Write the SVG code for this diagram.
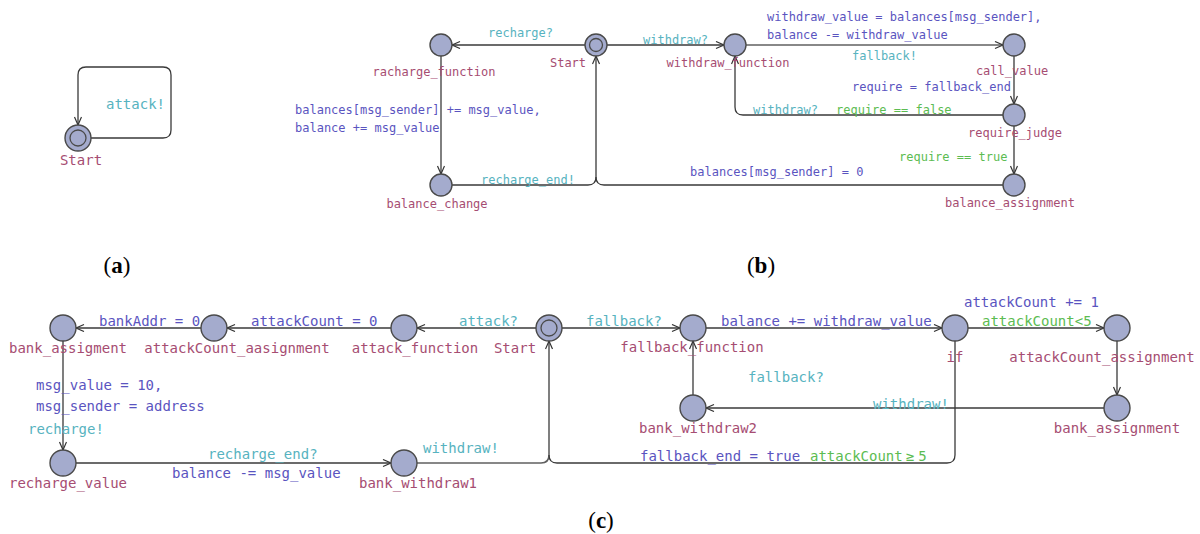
<svg xmlns="http://www.w3.org/2000/svg" width="1200" height="534" viewBox="0 0 1200 534">
<defs>
<marker id="arr" markerUnits="userSpaceOnUse" markerWidth="12" markerHeight="12" refX="9" refY="4" orient="auto">
<path d="M1,0.5 L9,4 L1,7.5" fill="none" stroke="#333" stroke-width="1.2"/>
</marker>
</defs>
<style>
.loc{fill:#a4abcd;stroke:#4a4a4a;stroke-width:1.4}
.in{fill:none;stroke:#4a4a4a;stroke-width:1.3}
.e{fill:none;stroke:#3a3a3a;stroke-width:1.3}
.g{fill:none;stroke:#606060;stroke-width:1.6}
text{font-family:"DejaVu Sans Mono","Liberation Mono",monospace}
.s{font-size:12px}
.l{font-size:14px}
.nm{fill:#a64d72}
.sy{fill:#57b3c0}
.up{fill:#5a54c0}
.gd{fill:#5cbc52}
.cap{font-family:"Liberation Serif",serif;font-size:23px;fill:#000}
</style>
<rect width="1200" height="534" fill="#fff"/>

<!-- (a) -->
<g id="connectors-a">
<path class="e" d="M91,138 L163,138 Q171,138 171,130 L171,75 Q171,67 163,67 L86,67 Q78,67 78,75 L78,125" marker-end="url(#arr)"/>
<text class="l sy" x="106" y="109">attack!</text>
</g>
<g id="a-start">
<circle class="loc" cx="78" cy="138" r="13"/><circle class="in" cx="78" cy="138" r="8"/>
<text class="l nm" x="81" y="165" text-anchor="middle">Start</text>
</g>
<text class="cap" x="117" y="273" text-anchor="middle">(<tspan font-weight="bold">a</tspan>)</text>

<!-- (b) -->
<g id="connectors-b">
<path class="e" d="M585,45 L452,45" marker-end="url(#arr)"/>
<path class="g" d="M441,56 L441,174" marker-end="url(#arr)"/>
<path class="e" d="M452,185 L588,185 Q596,185 596,177 L596,56" marker-end="url(#arr)"/>
<path class="e" d="M1003,185 L604,185 Q596,185 596,177"/>
<path class="e" d="M607,45 L724,45" marker-end="url(#arr)"/>
<path class="g" d="M746,45 L1003,45" marker-end="url(#arr)"/>
<path class="e" d="M1014,56 L1014,104" marker-end="url(#arr)"/>
<path class="e" d="M1003,115 L743,115 Q735,115 735,107 L735,56" marker-end="url(#arr)"/>
<path class="e" d="M1014,126 L1014,174" marker-end="url(#arr)"/>
<text class="s sy" x="488" y="37">recharge?</text>
<text class="s up" x="295" y="114">balances[msg_sender] += msg_value,</text>
<text class="s up" x="295" y="132">balance += msg_value</text>
<text class="s sy" x="481" y="184">recharge_end!</text>
<text class="s sy" x="643" y="44">withdraw?</text>
<text class="s up" x="767" y="21">withdraw_value = balances[msg_sender],</text>
<text class="s up" x="767" y="39">balance -= withdraw_value</text>
<text class="s sy" x="852" y="60">fallback!</text>
<text class="s up" x="852" y="91">require = fallback_end</text>
<text class="s sy" x="753" y="114">withdraw?</text>
<text class="s gd" x="836" y="114">require == false</text>
<text class="s gd" x="899" y="161">require == true</text>
<text class="s up" x="690" y="176">balances[msg_sender] = 0</text>
</g>
<g id="b-racharge_function"><circle class="loc" cx="441" cy="45" r="11"/><text class="s nm" x="434" y="76" text-anchor="middle">racharge_function</text></g>
<g id="b-start"><circle class="loc" cx="596" cy="45" r="11"/><circle class="in" cx="596" cy="45" r="6.5"/><text class="s nm" x="568" y="67" text-anchor="middle">Start</text></g>
<g id="b-withdraw_function"><circle class="loc" cx="735" cy="45" r="11"/><text class="s nm" x="728" y="67" text-anchor="middle">withdraw_function</text></g>
<g id="b-call_value"><circle class="loc" cx="1014" cy="45" r="11"/><text class="s nm" x="1012" y="75" text-anchor="middle">call_value</text></g>
<g id="b-require_judge"><circle class="loc" cx="1014" cy="115" r="11"/><text class="s nm" x="1015" y="137" text-anchor="middle">require_judge</text></g>
<g id="b-balance_assignment"><circle class="loc" cx="1014" cy="185" r="11"/><text class="s nm" x="1010" y="207" text-anchor="middle">balance_assignment</text></g>
<g id="b-balance_change"><circle class="loc" cx="441" cy="185" r="11"/><text class="s nm" x="437" y="208" text-anchor="middle">balance_change</text></g>
<text class="cap" x="761" y="273" text-anchor="middle">(<tspan font-weight="bold">b</tspan>)</text>

<!-- (c) -->
<g id="connectors-c">
<path class="e" d="M536,328 L417,328" marker-end="url(#arr)"/>
<path class="e" d="M391,328 L227,328" marker-end="url(#arr)"/>
<path class="e" d="M201,328 L76,328" marker-end="url(#arr)"/>
<path class="e" d="M63,341 L63,450" marker-end="url(#arr)"/>
<path class="e" d="M76,463 L391,463" marker-end="url(#arr)"/>
<path class="g" d="M417,463 L541,463 Q549,463 549,455 L549,341" marker-end="url(#arr)"/>
<path class="e" d="M955,341 L955,455 Q955,463 947,463 L557,463 Q549,463 549,455"/>
<path class="e" d="M562,328 L680,328" marker-end="url(#arr)"/>
<path class="e" d="M706,328 L942,328" marker-end="url(#arr)"/>
<path class="e" d="M968,328 L1104,328" marker-end="url(#arr)"/>
<path class="e" d="M1117,341 L1117,395" marker-end="url(#arr)"/>
<path class="e" d="M1104,408 L706,408" marker-end="url(#arr)"/>
<path class="e" d="M693,395 L693,341" marker-end="url(#arr)"/>
<text class="l up" x="99" y="326">bankAddr = 0</text>
<text class="l up" x="251" y="326">attackCount = 0</text>
<text class="l sy" x="459" y="326">attack?</text>
<text class="l sy" x="586" y="326">fallback?</text>
<text class="l up" x="721" y="326">balance += withdraw_value</text>
<text class="l up" x="964" y="307">attackCount += 1</text>
<text class="l gd" x="982" y="326">attackCount&lt;5</text>
<text class="l sy" x="748" y="382">fallback?</text>
<text class="l sy" x="873" y="409">withdraw!</text>
<text class="l up" x="640" y="461">fallback_end = true</text>
<text class="l gd" x="810" y="461">attackCount<tspan dx="3">≥</tspan><tspan dx="4">5</tspan></text>
<text class="l up" x="36" y="390">msg_value = 10,</text>
<text class="l up" x="36" y="411">msg_sender = address</text>
<text class="l sy" x="28" y="434">recharge!</text>
<text class="l sy" x="208" y="459">recharge_end?</text>
<text class="l up" x="172" y="478">balance -= msg_value</text>
<text class="l sy" x="423" y="453">withdraw!</text>
</g>
<g id="c-bank_assigment"><circle class="loc" cx="63" cy="328" r="13"/><text class="l nm" x="68" y="353" text-anchor="middle">bank_assigment</text></g>
<g id="c-attackCount_aasignment"><circle class="loc" cx="214" cy="328" r="13"/><text class="l nm" x="237" y="353" text-anchor="middle">attackCount_aasignment</text></g>
<g id="c-attack_function"><circle class="loc" cx="404" cy="328" r="13"/><text class="l nm" x="415" y="353" text-anchor="middle">attack_function</text></g>
<g id="c-start"><circle class="loc" cx="549" cy="328" r="13"/><circle class="in" cx="549" cy="328" r="8"/><text class="l nm" x="515" y="353" text-anchor="middle">Start</text></g>
<g id="c-fallback_function"><circle class="loc" cx="693" cy="328" r="13"/><text class="l nm" x="692" y="352" text-anchor="middle">fallback_function</text></g>
<g id="c-if"><circle class="loc" cx="955" cy="328" r="13"/><text class="l nm" x="955" y="362" text-anchor="middle">if</text></g>
<g id="c-attackCount_assignment"><circle class="loc" cx="1117" cy="328" r="13"/><text class="l nm" x="1102" y="362" text-anchor="middle">attackCount_assignment</text></g>
<g id="c-bank_assignment"><circle class="loc" cx="1117" cy="408" r="13"/><text class="l nm" x="1117" y="433" text-anchor="middle">bank_assignment</text></g>
<g id="c-bank_withdraw2"><circle class="loc" cx="693" cy="408" r="13"/><text class="l nm" x="698" y="433" text-anchor="middle">bank_withdraw2</text></g>
<g id="c-recharge_value"><circle class="loc" cx="63" cy="463" r="13"/><text class="l nm" x="68" y="488" text-anchor="middle">recharge_value</text></g>
<g id="c-bank_withdraw1"><circle class="loc" cx="404" cy="463" r="13"/><text class="l nm" x="418" y="488" text-anchor="middle">bank_withdraw1</text></g>
<text class="cap" x="601" y="528" text-anchor="middle">(<tspan font-weight="bold">c</tspan>)</text>
</svg>
